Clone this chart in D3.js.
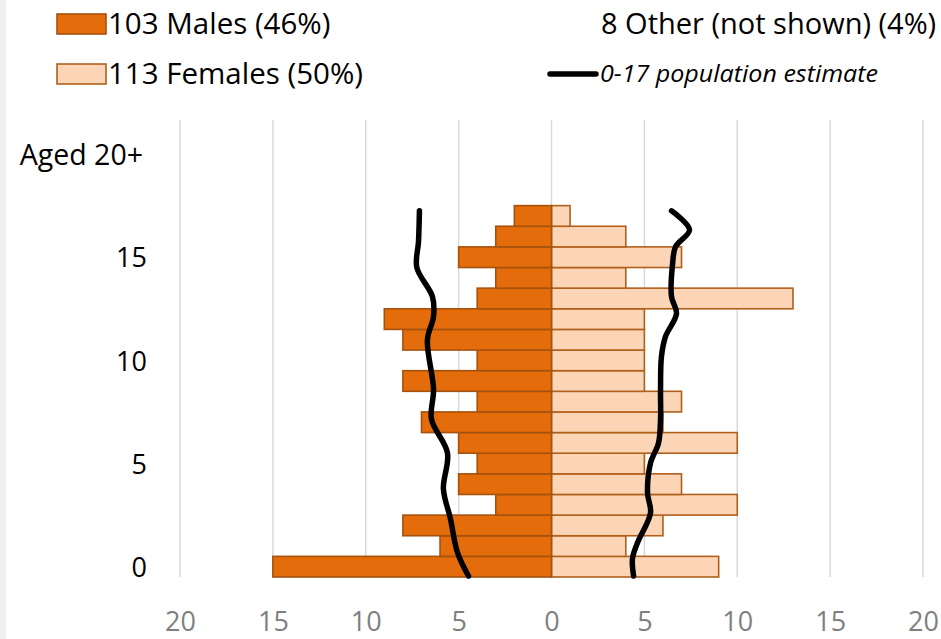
<!DOCTYPE html>
<html>
<head>
<meta charset="utf-8">
<script src="https://cdn.jsdelivr.net/npm/d3@7"></script>
<style>
  html, body { margin: 0; padding: 0; background: #ffffff; }
  svg { display: block; font-family: "Open Sans", "Noto Sans", sans-serif; }
</style>
</head>
<body>
<div id="chart"></div>
<script>
// ---------- data ----------
const ages = [0,1,2,3,4,5,6,7,8,9,10,11,12,13,14,15,16,17];
const males   = [15,6,8,3,5,4,5,7,4,8,4,8,9,4,3,5,3,2];
const females = [9,4,6,10,7,5,10,6,7,5,5,5,5,13,4,7,4,1];

// 0-17 population estimate lines
const maleEstAge   = [-0.45, 0.68, 2.32, 3.77, 5.51, 7.15, 8.6, 11.0, 12.13, 13.09, 14.5, 15.75, 17.25];
const maleEstValue = [4.47, 5.06, 5.44, 5.82, 5.60, 6.46, 6.35, 6.68, 6.35, 6.41, 7.25, 7.16, 7.11];
const femaleEstAge   = [-0.45, 0.39, 1.16, 2.61, 3.57, 5.02, 5.99, 7.15, 8.6, 10.19, 11.16, 12.27, 13.09, 14.69, 15.51, 16.33, 17.25];
const femaleEstValue = [4.42, 4.36, 4.63, 5.33, 5.17, 5.33, 5.76, 5.87, 5.87, 5.92, 6.14, 6.73, 6.46, 6.52, 6.68, 7.43, 6.46];

const xTicks = [-20,-15,-10,-5,0,5,10,15,20];
const yTickValues = [0,5,10,15,20];
const yTickLabels = ["0","5","10","15","Aged 20+"];

const legendMales = "103 Males (46%)";
const legendFemales = "113 Females (50%)";
const legendOther = "8 Other (not shown) (4%)";
const legendLine = "0-17 population estimate";

// ---------- layout ----------
const W = 941, H = 639;
const maleFill = "#E46C0A", maleStroke = "#A5520F";
const femaleFill = "#FBD5B5", femaleStroke = "#B0601C";

const svg = d3.select("#chart").append("svg").attr("width", W).attr("height", H);
svg.append("rect").attr("x",0).attr("y",0).attr("width",W).attr("height",H).attr("fill","#ffffff");
svg.append("rect").attr("x",0).attr("y",0).attr("width",6).attr("height",H).attr("fill","#f0f0f0");

const x = d3.scaleLinear().domain([-20, 20]).range([180, 923]);
const y = d3.scaleLinear().domain([-0.5, 21.65]).range([577, 120]);

// gridlines
svg.append("g").selectAll("line").data(xTicks).join("line")
  .attr("x1", d => x(d)).attr("x2", d => x(d))
  .attr("y1", y(21.65)).attr("y2", y(-0.5))
  .attr("stroke", "#d9d9d9").attr("stroke-width", 1.5);

// bars
const rows = ages.map((a, i) => ({age: a, m: males[i], f: females[i]}));
const bars = svg.append("g");
bars.selectAll("rect.f").data(rows).join("rect").attr("class","f")
  .attr("x", x(0))
  .attr("y", d => y(d.age + 0.5))
  .attr("width", d => x(d.f) - x(0))
  .attr("height", d => y(d.age - 0.5) - y(d.age + 0.5))
  .attr("fill", femaleFill).attr("stroke", femaleStroke).attr("stroke-width", 1.6);
bars.selectAll("rect.m").data(rows).join("rect").attr("class","m")
  .attr("x", d => x(-d.m))
  .attr("y", d => y(d.age + 0.5))
  .attr("width", d => x(0) - x(-d.m))
  .attr("height", d => y(d.age - 0.5) - y(d.age + 0.5))
  .attr("fill", maleFill).attr("stroke", maleStroke).attr("stroke-width", 1.6);

// estimate lines
const line = d3.line().curve(d3.curveCatmullRom.alpha(0.5));
const malePts = maleEstAge.map((a, i) => [x(-maleEstValue[i]), y(a)]);
const femalePts = femaleEstAge.map((a, i) => [x(femaleEstValue[i]), y(a)]);
[malePts, femalePts].forEach(p => {
  svg.append("path").attr("d", line(p)).attr("fill","none")
    .attr("stroke","#000").attr("stroke-width",5.5)
    .attr("stroke-linecap","round").attr("stroke-linejoin","round");
});

// x axis (labels only)
const xAxis = d3.axisBottom(x).tickValues(xTicks).tickSize(0).tickPadding(0)
  .tickFormat(d => String(Math.abs(d)));
const gx = svg.append("g").attr("transform", "translate(0,631)").call(xAxis);
gx.select(".domain").remove();
gx.selectAll("text").attr("dy", null).attr("y", 0)
  .attr("font-family", "'Open Sans', sans-serif").attr("font-size", 27).attr("fill", "#7f7f7f");

// y axis (labels only)
const yAxis = d3.axisLeft(y).tickValues(yTickValues).tickSize(0).tickPadding(0)
  .tickFormat((d, i) => yTickLabels[i]);
const gy = svg.append("g").attr("transform", "translate(147,0)").call(yAxis);
gy.select(".domain").remove();
gy.selectAll("text").attr("dy", "0.36em")
  .attr("font-family", "'Open Sans', sans-serif").attr("font-size", 27).attr("fill", "#000");
gy.selectAll("text").filter((d) => d === 20).attr("font-size", 28.5).attr("x", -4);

// legend
const lg = svg.append("g").attr("font-family", "'Open Sans', sans-serif");
lg.append("rect").attr("x",57).attr("y",14).attr("width",49).attr("height",20)
  .attr("fill", maleFill).attr("stroke", maleStroke).attr("stroke-width",1.6);
lg.append("text").attr("x",108).attr("y",34).attr("font-size",29.5).attr("fill","#000").text(legendMales);
lg.append("rect").attr("x",57).attr("y",64).attr("width",49).attr("height",20)
  .attr("fill", femaleFill).attr("stroke", femaleStroke).attr("stroke-width",1.6);
lg.append("text").attr("x",108).attr("y",84).attr("font-size",29.5).attr("fill","#000").text(legendFemales);
lg.append("text").attr("x",601).attr("y",34).attr("font-size",29).attr("fill","#000").text(legendOther);
lg.append("line").attr("x1",550).attr("x2",596).attr("y1",74).attr("y2",74)
  .attr("stroke","#000").attr("stroke-width",5.5).attr("stroke-linecap","round");
lg.append("text").attr("x",600).attr("y",82).attr("font-size",23).attr("font-style","italic")
  .attr("textLength", 278).attr("lengthAdjust", "spacingAndGlyphs")
  .attr("fill","#000").text(legendLine);
</script>
</body>
</html>
